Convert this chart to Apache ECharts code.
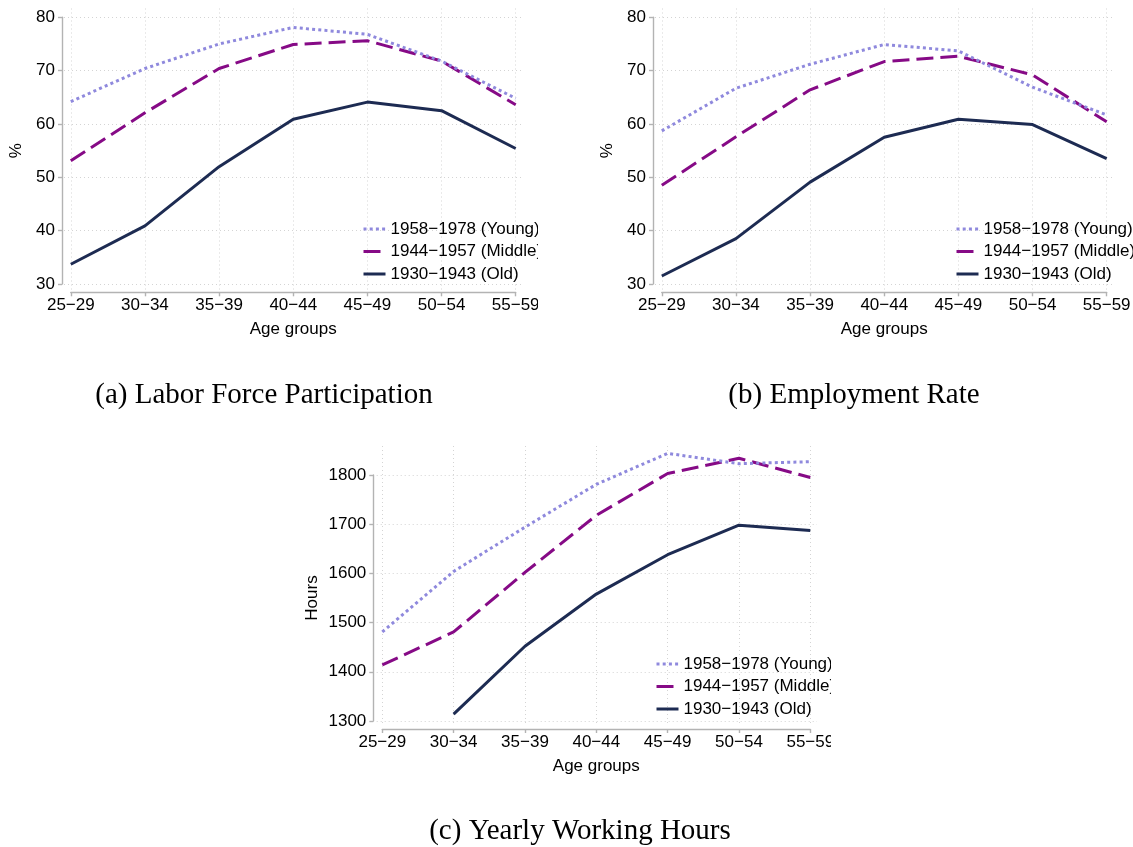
<!DOCTYPE html>
<html><head><meta charset="utf-8">
<script src="https://cdn.jsdelivr.net/npm/echarts@6/dist/echarts.min.js"></script>
<style>
html,body{margin:0;padding:0;background:#fff;width:1133px;height:847px;overflow:hidden;position:relative}
.p{position:absolute;overflow:hidden}
</style></head><body>
<div id="a" class="p" style="left:0;top:0;width:538px;height:420px"></div>
<div id="b" class="p" style="left:591px;top:0;width:542px;height:420px"></div>
<div id="c" class="p" style="left:0;top:420px;width:831px;height:427px"></div>
<script>
// ---- data ----
const categories = ['25\u221229','30\u221234','35\u221239','40\u221244','45\u221249','50\u221254','55\u221259'];
const seriesNames = ['1958\u22121978 (Young)','1944\u22121957 (Middle)','1930\u22121943 (Old)'];
const lfpYoung  = [64.2, 70.4, 75.0, 78.1, 76.8, 71.8, 64.8];
const lfpMiddle = [53.1, 62.1, 70.4, 74.9, 75.6, 71.8, 63.6];
const lfpOld    = [33.7, 40.9, 52.0, 60.9, 64.1, 62.5, 55.4];
const empYoung  = [58.7, 66.7, 71.2, 74.9, 73.7, 66.9, 61.7];
const empMiddle = [48.5, 57.6, 66.4, 71.7, 72.7, 69.2, 60.4];
const empOld    = [31.5, 38.5, 49.1, 57.5, 60.9, 59.9, 53.5];
const hrsYoung  = [1481, 1604, 1694, 1781, 1844, 1823, 1827];
const hrsMiddle = [1414, 1481, 1602, 1718, 1803, 1834, 1795];
const hrsOld    = [null, 1314, 1452, 1558, 1638, 1698, 1687];
const captions = ['(a) Labor Force Participation','(b) Employment Rate','(c) Yearly Working Hours'];
const xName = 'Age groups';

// ---- styles ----
const FONT = 'Liberation Sans, Arial, Helvetica, sans-serif';
const colors = ['#8f89dd', '#860a86', '#1d2b52'];
const dashes = [[3, 3.2], [17, 7], 'solid'];
const gridColor = '#d4d4d4';
const axisColor = '#b3b3b3';

function makePanel(id, g, vals, caption) {
  const chart = echarts.init(document.getElementById(id), null, {renderer: 'canvas'});
  const fs = 17;
  const dotted = {color: gridColor, width: 1, type: [1, 3]};
  const option = {
    animation: false,
    backgroundColor: '#fff',
    grid: [
      {left: g.pL, top: g.yTop, width: g.pR - g.pL, height: g.yBot - g.yTop, outerBoundsMode: 'none', containLabel: false},
      {left: g.cat0, top: g.pT, width: g.catN - g.cat0, height: g.pB - g.pT, outerBoundsMode: 'none', containLabel: false},
      {left: g.cat0, top: g.yTop, width: g.catN - g.cat0, height: g.yBot - g.yTop, outerBoundsMode: 'none', containLabel: false}
    ],
    xAxis: [
      {gridIndex: 0, type: 'value', min: 0, max: 1, show: false},
      {gridIndex: 1, type: 'category', data: categories, boundaryGap: false,
       axisLine: {show: false}, axisTick: {show: false}, axisLabel: {show: false},
       splitLine: {show: true, lineStyle: dotted}},
      {gridIndex: 2, type: 'category', data: categories, boundaryGap: false,
       offset: g.xLineY - g.yBot,
       axisLine: {show: true, lineStyle: {color: axisColor, width: 1.4}},
       axisTick: {show: true, length: 4, lineStyle: {color: axisColor, width: 1.4}},
       axisLabel: {show: true, margin: 5, fontSize: fs, fontFamily: FONT, color: '#000', interval: 0},
       splitLine: {show: false},
       name: xName, nameLocation: 'middle', nameGap: g.xNameGap, nameMoveOverlap: false,
       nameTextStyle: {fontSize: fs, fontFamily: FONT, color: '#000'}}
    ],
    yAxis: [
      {gridIndex: 0, type: 'value', min: g.min, max: g.max, interval: g.interval,
       axisLine: {show: false}, axisTick: {show: false}, axisLabel: {show: false},
       splitLine: {show: true, lineStyle: dotted}},
      {gridIndex: 1, type: 'value', min: 0, max: 1, show: false},
      {gridIndex: 2, type: 'value', min: g.min, max: g.max, interval: g.interval,
       offset: g.cat0 - g.axisX,
       axisLine: {show: true, lineStyle: {color: axisColor, width: 1.4}},
       axisTick: {show: true, length: 4, lineStyle: {color: axisColor, width: 1.4}},
       axisLabel: {show: true, margin: 7, fontSize: fs, fontFamily: FONT, color: '#000',
                   formatter: v => String(v)},
       splitLine: {show: false},
       name: g.yName, nameLocation: 'middle', nameRotate: 90, nameGap: g.yNameGap, nameMoveOverlap: false,
       nameTextStyle: {fontSize: fs, fontFamily: FONT, color: '#000'}}
    ],
    legend: {
      orient: 'vertical', left: g.legL, top: g.legT, padding: 0,
      itemWidth: 22, itemHeight: 14, itemGap: 5.5,
      itemStyle: {opacity: 0},
      lineStyle: {width: 3},
      textStyle: {fontSize: fs, fontFamily: FONT, color: '#000', lineHeight: 17},
      data: seriesNames
    },
    series: seriesNames.map((n, i) => ({
      name: n, type: 'line', xAxisIndex: 2, yAxisIndex: 2,
      data: vals[i], showSymbol: false, symbol: 'none', clip: false, connectNulls: false,
      lineStyle: {color: colors[i], width: 3, type: dashes[i], cap: 'butt', join: 'round'},
      itemStyle: {color: colors[i]},
      z: 3 - i
    })),
    graphic: [{
      type: 'text', x: g.capX, y: g.capY,
      style: {text: caption, fill: '#000', font: '29px "Liberation Serif", "Times New Roman", serif',
              align: 'center', verticalAlign: 'middle', textAlign: 'center', textVerticalAlign: 'middle'}
    }]
  };
  chart.setOption(option);
}

const geomA = {axisX: 62, cat0: 70.8, catN: 515.7, yTop: 17.3, yBot: 284, xLineY: 292.3,
  pL: 64, pR: 523, pT: 8.5, pB: 290, legL: 362, legT: 220.5, yNameGap: 37, xNameGap: 29,
  capX: 264, capY: 395, min: 30, max: 80, interval: 10, yName: '%'};
const geomB = Object.assign({}, geomA, {capX: 263, legL: 364});
const geomC = {axisX: 373.3, cat0: 382.3, catN: 810.3, yTop: 55, yBot: 301, xLineY: 309,
  pL: 376.7, pR: 817, pT: 26, pB: 306, legL: 655, legT: 235.5, yNameGap: 52, xNameGap: 28.5,
  capX: 580, capY: 411, min: 1300, max: 1800, interval: 100, yName: 'Hours'};

makePanel('a', geomA, [lfpYoung, lfpMiddle, lfpOld], captions[0]);
makePanel('b', geomB, [empYoung, empMiddle, empOld], captions[1]);
makePanel('c', geomC, [hrsYoung, hrsMiddle, hrsOld], captions[2]);
</script>
</body></html>
